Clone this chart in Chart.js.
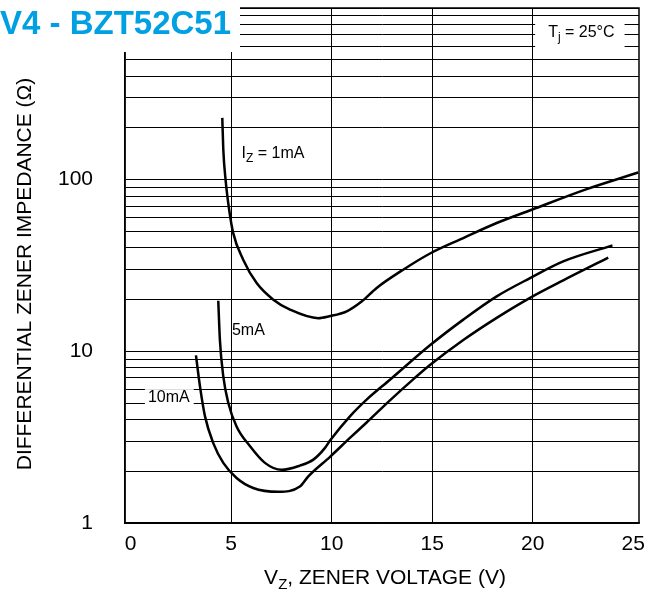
<!DOCTYPE html>
<html lang="en">
<head>
<meta charset="UTF-8">
<title>Differential Zener Impedance vs Zener Voltage</title>
<script src="https://cdn.jsdelivr.net/npm/chart.js"></script>
<style>
    html, body { margin: 0; padding: 0; background: #fff; }
    .wrap { width: 663px; height: 591px; position: relative; }
</style>
</head>
<body>
<div class="wrap"><canvas id="zenerChart"></canvas></div>
<script>
// values: V in volts, Z in ohms
var v1mA = [4.56, 4.61, 4.73, 4.90, 5.10, 5.60, 6.27, 7.10, 7.93, 9.33, 9.88, 10.75, 11.49, 12.24, 13.56, 14.94, 16.55, 18.21, 19.95, 22.69, 25.25];
var z1mA = [229, 150, 98, 67, 49, 34.2, 25, 20, 17.5, 15.6, 16.0, 17.1, 19.5, 23.4, 29.9, 37.4, 45.7, 55.9, 66.8, 88.1, 110];

var v5mA = [4.36, 4.44, 4.61, 4.86, 5.27, 5.94, 6.68, 7.51, 8.42, 9.09, 9.67, 9.92, 10.91, 11.74, 12.90, 14.89, 16.55, 18.21, 19.87, 21.52, 23.97];
var z5mA = [19.7, 11.7, 7.14, 5.0, 3.65, 2.8, 2.24, 2.04, 2.16, 2.34, 2.74, 3.02, 4.18, 5.23, 6.83, 10.84, 15.3, 20.9, 26.7, 33.4, 41.4];

var v10mA = [3.25, 3.45, 3.70, 4.11, 4.61, 5.27, 6.10, 7.34, 8.42, 8.84, 9.92, 10.91, 11.74, 12.90, 14.14, 14.89, 16.55, 18.21, 19.87, 21.52, 23.76];
var z10mA = [9.47, 6.25, 4.18, 2.92, 2.24, 1.83, 1.6, 1.52, 1.63, 1.87, 2.43, 3.13, 3.85, 5.18, 7.0, 8.32, 11.64, 15.67, 20.5, 25.9, 35.1];

var xTicks = [0, 5, 10, 15, 20, 25];
var yTicks = [1, 2, 3, 4, 5, 6, 7, 8, 9, 10, 20, 30, 40, 50, 60, 70, 80, 90, 100, 200, 300, 400, 500, 600, 700, 800, 900, 1000];
var yLabels = [1, 10, 100];

var FONT = '"Liberation Sans", Arial, sans-serif';

function toPoints(xs, ys) {
    return xs.map(function (x, i) { return { x: x, y: ys[i] }; });
}

function partsWidth(ctx, parts, size) {
    var subSize = Math.round(size * 0.72);
    var w = 0;
    parts.forEach(function (p) {
        ctx.font = (p[1] ? subSize : size) + 'px ' + FONT;
        w += ctx.measureText(p[0]).width;
    });
    return w;
}

// draws text made of [string, isSubscript] pieces, returns its width
function drawParts(ctx, parts, x, y, size, align) {
    var subSize = Math.round(size * 0.72);
    var w = partsWidth(ctx, parts, size);
    var cx = align === 'center' ? x - w / 2 : x;
    ctx.textAlign = 'left';
    ctx.textBaseline = 'middle';
    parts.forEach(function (p) {
        ctx.font = (p[1] ? subSize : size) + 'px ' + FONT;
        ctx.fillText(p[0], cx, p[1] ? y + size * 0.32 : y);
        cx += ctx.measureText(p[0]).width;
    });
    return w;
}

var tjParts = [['T', false], ['j', true], [' = 25°C', false]];
var izParts = [['I', false], ['Z', true], [' = 1mA', false]];

var framePlugin = {
    id: 'frame',
    beforeDatasetsDraw: function (chart) {
        var ctx = chart.ctx, a = chart.chartArea;
        var xs = chart.scales.x, ys = chart.scales.y;
        ctx.save();
        // right and top edges of the plot box
        ctx.strokeStyle = '#000';
        ctx.lineWidth = 1.5;
        ctx.strokeRect(a.left, a.top, a.right - a.left, a.bottom - a.top);

        // white patches behind some labels
        ctx.fillStyle = '#fff';
        var tx = xs.getPixelForValue(20.77), ty = ys.getPixelForValue(715);
        var tw = partsWidth(ctx, tjParts, 16);
        ctx.fillRect(tx - 13, ty - 17, tw + 23, 34);

        ctx.font = '16px ' + FONT;
        var lx = xs.getPixelForValue(0.86), ly = ys.getPixelForValue(5.41);
        ctx.fillRect(lx - 3, ly - 8, ctx.measureText('10mA').width + 7, 16);
        ctx.restore();
    },
    afterDatasetsDraw: function (chart) {
        var ctx = chart.ctx;
        var xs = chart.scales.x, ys = chart.scales.y;
        ctx.save();
        ctx.fillStyle = '#000';
        drawParts(ctx, tjParts, xs.getPixelForValue(20.77), ys.getPixelForValue(715), 16, 'left');
        drawParts(ctx, izParts, xs.getPixelForValue(5.52), ys.getPixelForValue(141), 16, 'left');
        drawParts(ctx, [['5mA', false]], xs.getPixelForValue(5.04), ys.getPixelForValue(13.2), 16, 'left');
        drawParts(ctx, [['10mA', false]], xs.getPixelForValue(0.86), ys.getPixelForValue(5.41), 16, 'left');
        ctx.restore();
    },
    afterDraw: function (chart) {
        var ctx = chart.ctx, a = chart.chartArea;
        ctx.save();
        // header strip of the datasheet page
        ctx.fillStyle = '#fff';
        ctx.fillRect(0, 0, 240, a.top + 44);
        ctx.fillStyle = '#00a0e3';
        ctx.font = 'bold 33px ' + FONT;
        ctx.textAlign = 'left';
        ctx.textBaseline = 'middle';
        ctx.fillText('V4 - BZT52C51', 0, 25);

        // axis titles
        ctx.fillStyle = '#000';
        drawParts(ctx, [['V', false], ['Z', true], [', ZENER VOLTAGE (V)', false]],
            (a.left + a.right) / 2 + 3, 578, 21, 'center');

        ctx.translate(25, 274);
        ctx.rotate(-Math.PI / 2);
        ctx.font = '21px ' + FONT;
        ctx.textAlign = 'center';
        ctx.textBaseline = 'middle';
        ctx.fillText('DIFFERENTIAL ZENER IMPEDANCE (Ω)', 0, 0);
        ctx.restore();
    }
};

function lineSet(xs, ys) {
    return {
        data: toPoints(xs, ys),
        borderColor: '#000',
        borderWidth: 2.5,
        pointRadius: 0,
        fill: false,
        cubicInterpolationMode: 'monotone'
    };
}

var ctx = document.getElementById('zenerChart').getContext('2d');
var zenerChart = new Chart(ctx, {
    type: 'line',
    data: {
        datasets: [lineSet(v1mA, z1mA), lineSet(v5mA, z5mA), lineSet(v10mA, z10mA)]
    },
    options: {
        responsive: true,
        maintainAspectRatio: false,
        animation: false,
        layout: { padding: { top: 8, right: 24, left: 0, bottom: 0 } },
        plugins: {
            legend: { display: false },
            tooltip: { enabled: false }
        },
        scales: {
            x: {
                type: 'linear',
                min: -0.28,
                max: 25.29,
                afterBuildTicks: function (s) {
                    s.ticks = xTicks.map(function (v) { return { value: v }; });
                },
                afterFit: function (s) {
                    s.height = 68;
                    s.paddingLeft = 0;
                    s.paddingRight = 0;
                },
                ticks: {
                    color: '#000',
                    font: { size: 21, family: FONT },
                    padding: 9,
                    maxRotation: 0,
                    autoSkip: false,
                    callback: function (v) { return String(v); }
                },
                grid: {
                    drawTicks: false,
                    lineWidth: 1,
                    color: function (c) {
                        if (c.tick && (c.tick.value === 0 || c.tick.value === 25)) return 'rgba(0,0,0,0)';
                        return '#000';
                    }
                },
                border: { display: true, color: '#000', width: 1.5 }
            },
            y: {
                type: 'logarithmic',
                min: 1,
                max: 1000,
                afterBuildTicks: function (s) {
                    s.ticks = yTicks.map(function (v) { return { value: v }; });
                },
                afterFit: function (s) {
                    s.width = 125;
                    s.paddingTop = 0;
                    s.paddingBottom = 0;
                },
                ticks: {
                    color: '#000',
                    font: { size: 21, family: FONT },
                    padding: 32,
                    autoSkip: false,
                    callback: function (v) { return yLabels.indexOf(v) >= 0 ? String(v) : ''; }
                },
                grid: { drawTicks: false, lineWidth: 1, color: '#000' },
                border: { display: true, color: '#000', width: 1.5 }
            }
        }
    },
    plugins: [framePlugin]
});
</script>
</body>
</html>
